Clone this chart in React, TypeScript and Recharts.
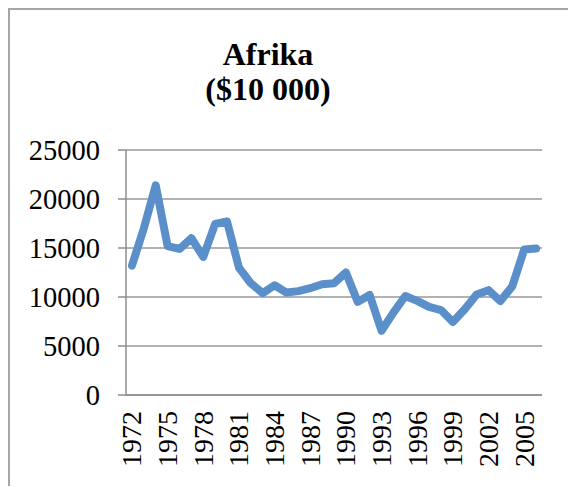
import { LineChart, Line, XAxis, YAxis, CartesianGrid } from "recharts";

const years = [
  1972, 1973, 1974, 1975, 1976, 1977, 1978, 1979, 1980, 1981,
  1982, 1983, 1984, 1985, 1986, 1987, 1988, 1989, 1990, 1991,
  1992, 1993, 1994, 1995, 1996, 1997, 1998, 1999, 2000, 2001,
  2002, 2003, 2004, 2005, 2006,
];

const afrika = [
  13200, 17000, 21400, 15200, 14900, 16000, 14100, 17450, 17700, 13000,
  11400, 10400, 11200, 10450, 10600, 10900, 11300, 11400, 12500, 9500,
  10200, 6550, 8400, 10100, 9600, 9000, 8670, 7450, 8740, 10260,
  10700, 9580, 11100, 14840, 14940,
];

const yTicks = [0, 5000, 10000, 15000, 20000, 25000];
const labelYears = [1972, 1975, 1978, 1981, 1984, 1987, 1990, 1993, 1996, 1999, 2002, 2005];
// tick marks sit between categories, like Excel
const boundaryTicks = [...years.map((y) => y - 0.5), years[years.length - 1] + 0.5];

const data = years.map((year, i) => ({ year, value: afrika[i] }));

const serif = '"Liberation Serif", "Times New Roman", serif';
const xDomain = [years[0] - 0.5, years[years.length - 1] + 0.5];

function YearTick({ x, y, payload }: any) {
  return (
    <text
      x={x}
      y={y}
      transform={`rotate(-90, ${x}, ${y})`}
      textAnchor="end"
      dominantBaseline="central"
      fontFamily={serif}
      fontSize={28}
      fill="#000"
    >
      {payload.value}
    </text>
  );
}

export default function App() {
  return (
    <div
      style={{
        position: "absolute",
        left: 8,
        top: 8,
        borderLeft: "2px solid #a6a6a6",
        borderTop: "2px solid #a6a6a6",
        width: 558,
        height: 476,
        overflow: "hidden",
        background: "#fff",
      }}
    >
      <div
        style={{
          position: "absolute",
          left: 0,
          top: 27,
          width: 516,
          textAlign: "center",
          fontFamily: serif,
          fontWeight: "bold",
          fontSize: 32,
          lineHeight: "35px",
          color: "#000",
        }}
      >
        Afrika
        <br />
        ($10 000)
      </div>
      <LineChart
        width={558}
        height={476}
        data={data}
        margin={{ top: 140, right: 26, left: 0, bottom: 0 }}
      >
        <CartesianGrid xAxisId="a" vertical={false} stroke="#999" strokeWidth={1.5} />
        <XAxis
          xAxisId="a"
          dataKey="year"
          type="number"
          domain={xDomain}
          ticks={boundaryTicks}
          interval={0}
          tick={false}
          tickSize={6}
          height={8}
          stroke="#8c8c8c"
          strokeWidth={1.5}
        />
        <XAxis
          xAxisId="b"
          dataKey="year"
          type="number"
          domain={xDomain}
          ticks={labelYears}
          interval={0}
          axisLine={false}
          tickLine={false}
          tickSize={0}
          tickMargin={8}
          height={83}
          tick={<YearTick />}
        />
        <YAxis
          domain={[0, 25000]}
          ticks={yTicks}
          interval={0}
          width={116}
          tickSize={8}
          tickMargin={18}
          stroke="#8c8c8c"
          strokeWidth={1.5}
          tick={{ fontFamily: serif, fontSize: 28.5, fill: "#000" }}
        />
        <Line
          xAxisId="a"
          type="linear"
          dataKey="value"
          stroke="#5a8fca"
          strokeWidth={8}
          strokeLinejoin="round"
          strokeLinecap="round"
          dot={false}
          isAnimationActive={false}
        />
      </LineChart>
    </div>
  );
}
